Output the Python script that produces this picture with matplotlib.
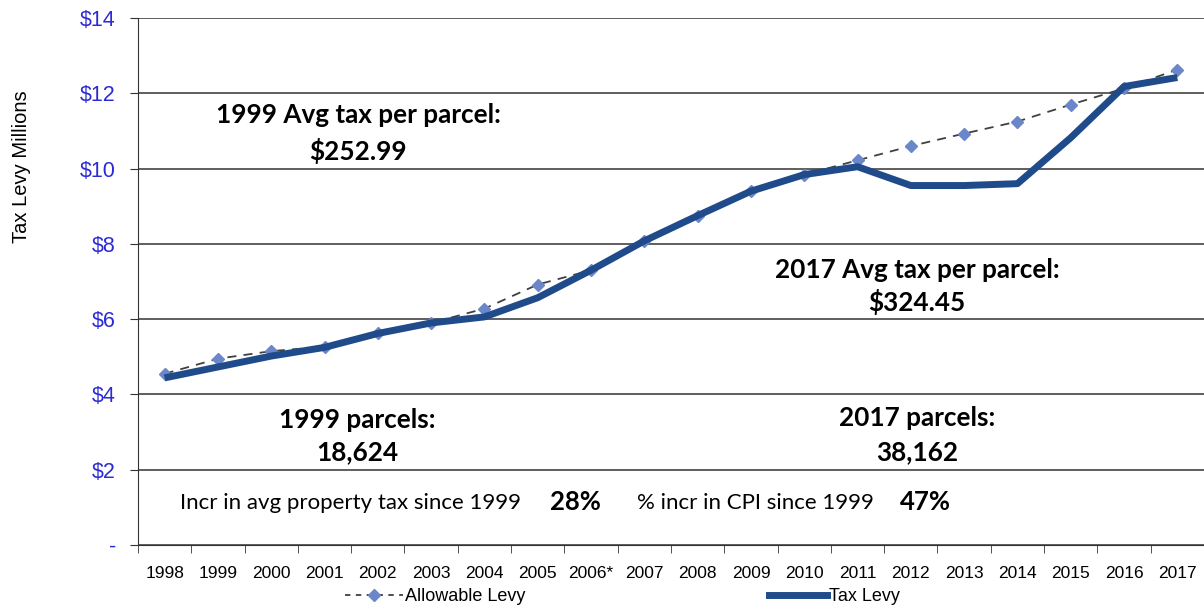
import matplotlib.pyplot as plt
from matplotlib.lines import Line2D

years = ['1998', '1999', '2000', '2001', '2002', '2003', '2004', '2005', '2006*', '2007',
         '2008', '2009', '2010', '2011', '2012', '2013', '2014', '2015', '2016', '2017']
allowable_levy = [4.55, 4.95, 5.15, 5.27, 5.62, 5.9, 6.28, 6.92, 7.3, 8.08,
                  8.75, 9.4, 9.84, 10.22, 10.6, 10.93, 11.25, 11.7, 12.13, 12.63]
tax_levy = [4.44, 4.73, 5.02, 5.25, 5.62, 5.9, 6.06, 6.57, 7.3, 8.08,
            8.75, 9.4, 9.84, 10.05, 9.55, 9.55, 9.6, 10.82, 12.18, 12.42]
y_ticks = [0, 2, 4, 6, 8, 10, 12, 14]
y_labels = ['-', '$2', '$4', '$6', '$8', '$10', '$12', '$14']

fig = plt.figure(figsize=(12.04, 6.07), dpi=100)
ax = fig.add_axes([0.1146, 0.1021, 0.8854, 0.8682])

x = list(range(len(years)))
ax.plot(x, allowable_levy, color='#404040', lw=1.3, ls=(0, (5, 4)), zorder=3,
        marker='D', markersize=6, markerfacecolor='#6b87c9', markeredgecolor='#6b87c9')
ax.plot(x, tax_levy, color='#1f4b8a', lw=5, solid_capstyle='butt', zorder=4)

ax.set_xlim(-0.5, len(years) - 0.5)
ax.set_ylim(0, 14)
ax.set_yticks(y_ticks)
ax.set_yticklabels(y_labels, color='#2b2bd6', fontsize=15.5, family='Liberation Sans')
ax.set_xticks(x)
ax.set_xticklabels(years, fontsize=12.5, family='Liberation Sans')
ax.set_xticks([i - 0.5 for i in range(len(years) + 1)], minor=True)
ax.tick_params(axis='x', which='major', length=0, pad=15)
ax.tick_params(axis='x', which='minor', length=6, direction='out', color='#333333')
ax.tick_params(axis='y', length=6, direction='out', color='#333333', pad=10)
ax.grid(axis='y', color='#333333', lw=1.1)
ax.set_axisbelow(True)
for side in ['top', 'right']:
    ax.spines[side].set_visible(False)
ax.spines['left'].set_color('#333333')
ax.spines['bottom'].set_color('#333333')

fig.text(0.018, 0.725, 'Tax Levy Millions', rotation=90, ha='center', va='center',
         fontsize=14.5, family='Liberation Sans')

bold = dict(fontsize=18.8, fontweight='bold', family='Lato', ha='center', va='center',
            transform=fig.transFigure)
fig.text(358 / 1204, 1 - 115 / 607, '1999 Avg tax per parcel:', **bold)
fig.text(358 / 1204, 1 - 151 / 607, '$252.99', **bold)
fig.text(917 / 1204, 1 - 270 / 607, '2017 Avg tax per parcel:', **bold)
fig.text(917 / 1204, 1 - 302 / 607, '$324.45', **bold)
fig.text(357 / 1204, 1 - 420 / 607, '1999 parcels:', **bold)
fig.text(357 / 1204, 1 - 452 / 607, '18,624', **bold)
fig.text(917 / 1204, 1 - 418 / 607, '2017 parcels:', **bold)
fig.text(917 / 1204, 1 - 452 / 607, '38,162', **bold)

fig.text(180 / 1204, 1 - 503 / 607, 'Incr in avg property tax since 1999',
         fontsize=16, family='Lato', va='center')
fig.text(550 / 1204, 1 - 502 / 607, '28%', fontsize=18.5, fontweight='bold',
         family='Lato', va='center')
fig.text(637 / 1204, 1 - 503 / 607, '% incr in CPI since 1999',
         fontsize=16, family='Lato', va='center')
fig.text(900 / 1204, 1 - 502 / 607, '47%', fontsize=18.5, fontweight='bold',
         family='Lato', va='center')

handles = [
    Line2D([], [], color='#404040', lw=1.3, ls=(0, (3, 3)), marker='D', markersize=6,
           markerfacecolor='#6b87c9', markeredgecolor='#6b87c9'),
    Line2D([], [], color='#1f4b8a', lw=5),
]
fig.legend(handles, ['Allowable Levy', 'Tax Levy'], loc='center', ncol=2,
           bbox_to_anchor=(0.517, 0.017), frameon=False, columnspacing=13.5,
           handlelength=3.2, handletextpad=0.1,
           prop={'family': 'Liberation Sans', 'size': 13})

fig.savefig('out.png', dpi=100)
